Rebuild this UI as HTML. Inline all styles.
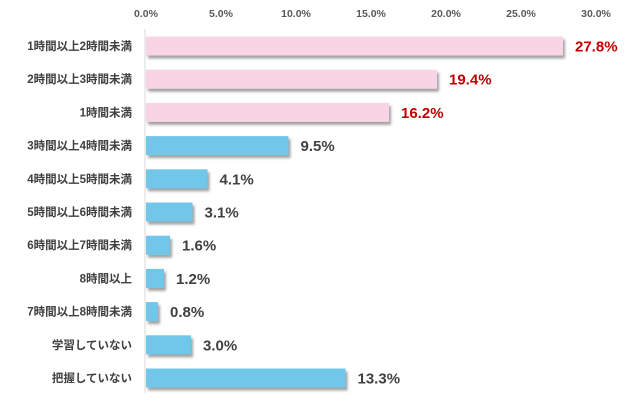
<!DOCTYPE html>
<html><head><meta charset="utf-8"><style>
body{margin:0;background:#fff;}
svg text{font-family:"Liberation Sans","Noto Sans CJK JP",sans-serif;font-weight:bold;}
</style></head><body>
<svg width="640" height="407" xmlns="http://www.w3.org/2000/svg">
<defs><filter id="s" x="-5%" y="-20%" width="115%" height="160%"><feDropShadow dx="2" dy="3" stdDeviation="1.2" flood-color="#555" flood-opacity="0.55"/></filter></defs>
<g fill="#595959" font-size="10.5" text-anchor="middle">
<text x="146" y="17">0.0%</text><text x="221" y="17">5.0%</text><text x="296" y="17">10.0%</text><text x="371" y="17">15.0%</text><text x="446" y="17">20.0%</text><text x="521" y="17">25.0%</text><text x="596" y="17">30.0%</text>
</g>
<line x1="145" y1="29" x2="145" y2="393" stroke="#d9d9d9" stroke-width="1"/>
<g filter="url(#s)">
<rect x="146" y="36.5" width="417" height="19" fill="#f8d4e4"/>
<rect x="146" y="69.7" width="291" height="19" fill="#f8d4e4"/>
<rect x="146" y="102.9" width="243" height="19" fill="#f8d4e4"/>
<rect x="146" y="136.1" width="142.5" height="19" fill="#6fc7e9"/>
<rect x="146" y="169.3" width="61.5" height="19" fill="#6fc7e9"/>
<rect x="146" y="202.5" width="46.5" height="19" fill="#6fc7e9"/>
<rect x="146" y="235.7" width="24" height="19" fill="#6fc7e9"/>
<rect x="146" y="268.9" width="18" height="19" fill="#6fc7e9"/>
<rect x="146" y="302.1" width="12" height="19" fill="#6fc7e9"/>
<rect x="146" y="335.3" width="45" height="19" fill="#6fc7e9"/>
<rect x="146" y="368.5" width="199.5" height="19" fill="#6fc7e9"/>
</g>
<g font-size="11.5" fill="#404040" text-anchor="end">
<text x="132" y="50">1時間以上2時間未満</text>
<text x="132" y="83.2">2時間以上3時間未満</text>
<text x="132" y="116.4">1時間未満</text>
<text x="132" y="149.6">3時間以上4時間未満</text>
<text x="132" y="182.8">4時間以上5時間未満</text>
<text x="132" y="216">5時間以上6時間未満</text>
<text x="132" y="249.2">6時間以上7時間未満</text>
<text x="132" y="282.4">8時間以上</text>
<text x="132" y="315.6">7時間以上8時間未満</text>
<text x="132" y="348.8">学習していない</text>
<text x="132" y="382">把握していない</text>
</g>
<g font-size="15" fill="#404040">
<text x="575" y="51.5" fill="#c00000">27.8%</text>
<text x="449" y="84.7" fill="#c00000">19.4%</text>
<text x="401" y="117.9" fill="#c00000">16.2%</text>
<text x="300.5" y="151.1">9.5%</text>
<text x="219.5" y="184.3">4.1%</text>
<text x="204.5" y="217.5">3.1%</text>
<text x="182" y="250.7">1.6%</text>
<text x="176" y="283.9">1.2%</text>
<text x="170" y="317.1">0.8%</text>
<text x="203" y="350.3">3.0%</text>
<text x="357.5" y="383.5">13.3%</text>
</g>
</svg>
</body></html>
